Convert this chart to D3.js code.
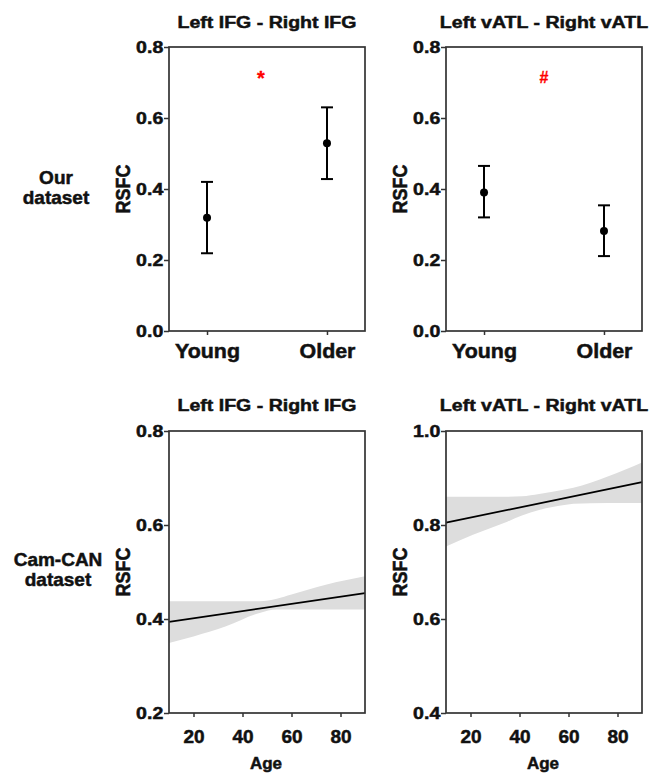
<!DOCTYPE html>
<html>
<head>
<meta charset="utf-8">
<script src="https://cdn.jsdelivr.net/npm/d3@7"></script>
<style>
  body { margin: 0; background: #fff; }
  svg text {
    font-family: "Liberation Sans", Arial, sans-serif; font-weight: bold; fill: #111;
    stroke: #111; stroke-width: 0.5px; paint-order: stroke;
  }
</style>
</head>
<body>
<svg id="chart" width="654" height="775"></svg>
<script>
// Our dataset: group means with error bars
const groups = ["Young", "Older"];
const ifgMean = [0.319, 0.529];
const ifgLow = [0.219, 0.428];
const ifgHigh = [0.420, 0.630];
const atlMean = [0.390, 0.282];
const atlLow = [0.320, 0.211];
const atlHigh = [0.465, 0.354];
const sigMarks = ["*", "#"];
const sigValue = [0.70, 0.70];
const sigSize = [20, 16];
const sigPos = [0.45, 0.5]; // share of the way from Young to Older

// Cam-CAN dataset: regression line + confidence band
const ageRange = [10, 90];
const ifgFit = [0.394, 0.455];
const atlFit = [0.805, 0.891];
const ifgBandAge = [10, 20, 33, 47, 54, 60, 74, 90];
const ifgBandHigh = [0.438, 0.438, 0.438, 0.438, 0.443, 0.452, 0.473, 0.491];
const ifgBandLow = [0.349, 0.363, 0.384, 0.413, 0.420, 0.420, 0.420, 0.420];
const atlBandAge = [10, 21, 35, 41, 48, 59, 62, 76, 90];
const atlBandHigh = [0.860, 0.860, 0.860, 0.861, 0.866, 0.876, 0.879, 0.903, 0.933];
const atlBandLow = [0.754, 0.779, 0.807, 0.820, 0.832, 0.843, 0.845, 0.847, 0.847];

// labels and ticks
const titles = ["Left IFG - Right IFG", "Left vATL - Right vATL"];
const rowLabels = [["Our", "dataset"], ["Cam-CAN", "dataset"]];
const yTitle = "RSFC";
const xTitle = "Age";
const topTicks = [0, 0.2, 0.4, 0.6, 0.8];
const ifgAgeTicks = [0.2, 0.4, 0.6, 0.8];
const atlAgeTicks = [0.4, 0.6, 0.8, 1.0];
const ageTicks = [20, 40, 60, 80];

// layout
const cols = [[169, 365], [446, 642]];
const rows = [[47, 331], [431, 713]];
const STRETCH = 1.15;
const frameColor = "#333";

const svg = d3.select("#chart");
svg.append("rect").attr("width", 654).attr("height", 775).attr("fill", "#fff");

function label(x, y, txt, size, sx, rotate) {
  return svg.append("text")
    .attr("transform", `translate(${x},${y}) scale(${sx},1)` + (rotate ? " rotate(-90)" : ""))
    .attr("text-anchor", "middle")
    .style("font-size", size + "px")
    .text(txt);
}

function frame(c, r) {
  svg.append("rect")
    .attr("x", c[0]).attr("y", r[0])
    .attr("width", c[1] - c[0]).attr("height", r[1] - r[0])
    .attr("fill", "none")
    .attr("stroke", frameColor)
    .attr("stroke-width", 1.7);
}

function styleAxis(g, size, sx) {
  g.select(".domain").remove();
  g.selectAll(".tick line").attr("stroke", frameColor).attr("stroke-width", 1.5);
  g.selectAll(".tick text")
    .attr("fill", "#111")
    .style("font-size", size + "px")
    .attr("transform", `scale(${sx},1)`);
}

function yAxis(y, c, ticks) {
  const g = svg.append("g")
    .attr("transform", `translate(${c[0]},0)`)
    .call(d3.axisLeft(y).tickValues(ticks).tickFormat(d3.format(".1f"))
      .tickSize(5).tickSizeOuter(0).tickPadding(0));
  styleAxis(g, 17, STRETCH);
}

// top row: group comparison
function groupPanel(i, mean, low, high) {
  const c = cols[i], r = rows[0];
  const x = d3.scalePoint().domain(groups).range(c).padding(0.317);
  const y = d3.scaleLinear().domain([0, 0.8]).range([r[1], r[0]]);

  const gx = svg.append("g")
    .attr("transform", `translate(0,${r[1]})`)
    .call(d3.axisBottom(x).tickSize(4).tickSizeOuter(0).tickPadding(8.5));
  styleAxis(gx, 20, 1.07);
  yAxis(y, c, topTicks);

  const data = groups.map((d, k) => ({ g: d, m: mean[k], lo: low[k], hi: high[k] }));
  const bars = svg.append("g").attr("stroke", "#000").attr("stroke-width", 2);
  bars.selectAll(".stem").data(data).join("line")
    .attr("x1", d => x(d.g)).attr("x2", d => x(d.g))
    .attr("y1", d => y(d.lo)).attr("y2", d => y(d.hi));
  bars.selectAll(".capHi").data(data).join("line")
    .attr("x1", d => x(d.g) - 6).attr("x2", d => x(d.g) + 6)
    .attr("y1", d => y(d.hi)).attr("y2", d => y(d.hi));
  bars.selectAll(".capLo").data(data).join("line")
    .attr("x1", d => x(d.g) - 6).attr("x2", d => x(d.g) + 6)
    .attr("y1", d => y(d.lo)).attr("y2", d => y(d.lo));
  svg.append("g").selectAll("circle").data(data).join("circle")
    .attr("cx", d => x(d.g)).attr("cy", d => y(d.m)).attr("r", 4)
    .attr("fill", "#000");

  const sx = x(groups[0]) + sigPos[i] * (x(groups[1]) - x(groups[0]));
  svg.append("text")
    .attr("x", sx).attr("y", y(sigValue[i]) + (sigSize[i] - 16) / 2)
    .attr("text-anchor", "middle")
    .style("font-size", sigSize[i] + "px")
    .style("fill", "#ff0000")
    .style("stroke", "#ff0000")
    .style("stroke-width", "0.3px")
    .text(sigMarks[i]);

  frame(c, r);
  label((c[0] + c[1]) / 2, 27.5, titles[i], 17, STRETCH);
  label(c[0] - 39, (r[0] + r[1]) / 2, yTitle, 18, STRETCH, true);
}

// bottom row: age regression
function agePanel(i, yDomain, yTicks, fit, bandAge, bandHigh, bandLow) {
  const c = cols[i], r = rows[1];
  const x = d3.scaleLinear().domain(ageRange).range(c);
  const y = d3.scaleLinear().domain(yDomain).range([r[1], r[0]]);

  const band = bandAge.map((a, k) => ({ age: a, hi: bandHigh[k], lo: bandLow[k] }));
  svg.append("path").datum(band)
    .attr("fill", "#dddddd")
    .attr("d", d3.area().x(d => x(d.age)).y0(d => y(d.lo)).y1(d => y(d.hi))
      .curve(d3.curveMonotoneX));

  const line = ageRange.map((a, k) => ({ age: a, v: fit[k] }));
  svg.append("path").datum(line)
    .attr("fill", "none")
    .attr("stroke", "#000")
    .attr("stroke-width", 1.8)
    .attr("d", d3.line().x(d => x(d.age)).y(d => y(d.v)));

  const gx = svg.append("g")
    .attr("transform", `translate(0,${r[1]})`)
    .call(d3.axisBottom(x).tickValues(ageTicks).tickSize(4).tickSizeOuter(0).tickPadding(13));
  styleAxis(gx, 19, 1);
  yAxis(y, c, yTicks);

  frame(c, r);
  label((c[0] + c[1]) / 2, 410.5, titles[i], 17, STRETCH);
  label(c[0] - 39, (r[0] + r[1]) / 2, yTitle, 18, STRETCH, true);
  label((c[0] + c[1]) / 2 - 1, 769, xTitle, 17, 1);
}

groupPanel(0, ifgMean, ifgLow, ifgHigh);
groupPanel(1, atlMean, atlLow, atlHigh);
agePanel(0, [0.2, 0.8], ifgAgeTicks, ifgFit, ifgBandAge, ifgBandHigh, ifgBandLow);
agePanel(1, [0.4, 1.0], atlAgeTicks, atlFit, atlBandAge, atlBandHigh, atlBandLow);

// row labels on the left
label(56, 183.5, rowLabels[0][0], 19, 1);
label(56, 203.5, rowLabels[0][1], 19, 1);
label(58, 566, rowLabels[1][0], 19, 1);
label(58, 586, rowLabels[1][1], 19, 1);
</script>
</body>
</html>
